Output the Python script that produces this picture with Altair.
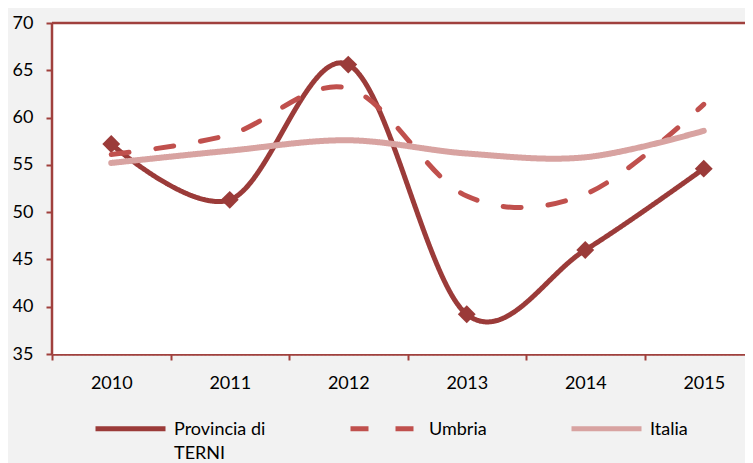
import altair as alt
import pandas as pd

years = ["2010", "2011", "2012", "2013", "2014", "2015"]
series_names = ["Provincia di TERNI", "Umbria", "Italia"]
terni = [57.2, 51.3, 65.6, 39.2, 46.0, 54.6]
umbria = [56.1, 58.2, 63.1, 51.7, 51.9, 61.4]
italia = [55.2, 56.5, 57.6, 56.2, 55.8, 58.6]
y_ticks = [35, 40, 45, 50, 55, 60, 65, 70]
colors = ["#9b3b39", "#c0504d", "#d8a3a1"]
dashes = [[1, 0], [18, 27], [1, 0]]
widths = [5, 5, 6]

rows = []
for name, vals in zip(series_names, [terni, umbria, italia]):
    for yr, v in zip(years, vals):
        rows.append({"year": yr, "series": name, "value": v})
df = pd.DataFrame(rows)

AX = "#a0403d"
FONT = "Lato"
DY = -8

x_enc = alt.X(
    "year:N",
    sort=years,
    bandPosition=0.5,
    scale=alt.Scale(type="band", domain=years, range=[0, 711], paddingInner=0, paddingOuter=0),
    axis=alt.Axis(
        title=None, labelAngle=0, tickBand="extent", grid=False,
        domainColor=AX, domainWidth=2.5, tickColor=AX, tickWidth=2, tickSize=6,
        labelPadding=14 - DY,
    ),
)
y_scale = alt.Scale(domain=[35, 70], nice=False, zero=False)
y_enc = alt.Y(
    "value:Q",
    scale=y_scale,
    axis=alt.Axis(
        values=y_ticks, title=None, format="d", grid=True, domain=False,
        gridDash=[2, 2], gridColor="#888888", gridWidth=1.3,
        tickColor=AX, tickWidth=2, tickSize=6,
        labelPadding=13, labelOffset=-DY,
    ),
)

legend = alt.Legend(
    title=None, orient="none", legendX=41, legendY=368, direction="horizontal",
    columns=3, columnPadding=74, symbolType="stroke", symbolSize=4900,
    symbolStrokeWidth=5, labelOffset=6, labelFont=FONT, labelFontSize=18,
    labelColor="#000000", padding=0, labelBaseline="top",
    labelExpr="datum.label == 'Provincia di TERNI' ? ['Provincia di', 'TERNI'] : [datum.label, '']",
)
color_enc = alt.Color("series:N", scale=alt.Scale(domain=series_names, range=colors), legend=legend)
dash_enc = alt.StrokeDash("series:N", scale=alt.Scale(domain=series_names, range=dashes), legend=legend)

frame_df = pd.DataFrame({"lo": [35], "hi": [70]})
plot_bg = alt.Chart(frame_df).mark_rect(color="white").encode(
    x=alt.value(0), x2=alt.value(740),
    y=alt.Y("hi:Q", scale=y_scale), y2="lo:Q",
)
top_border = alt.Chart(frame_df).mark_rule(color=AX, strokeWidth=2.5).encode(
    x=alt.value(0), x2=alt.value(740), y=alt.Y("hi:Q", scale=y_scale)
)
left_border = alt.Chart(frame_df).mark_rule(color=AX, strokeWidth=2.5).encode(
    x=alt.value(0), y=alt.Y("hi:Q", scale=y_scale), y2="lo:Q"
)

base = alt.Chart(df)
layers = [plot_bg]
for i, name in enumerate(series_names):
    line = base.transform_filter(alt.datum.series == name).mark_line(
        interpolate="cardinal", strokeWidth=widths[i], strokeCap="round", strokeJoin="round"
    ).encode(x=x_enc, y=y_enc, color=color_enc, strokeDash=dash_enc)
    layers.append(line)
    if i == 0:
        pts = base.transform_filter(alt.datum.series == name).mark_point(
            shape="diamond", filled=True, size=320, opacity=1, color=colors[0]
        ).encode(x=x_enc, y=y_enc)
        layers.append(pts)
layers += [top_border, left_border]

chart = alt.layer(*layers).properties(
    width=693, height=331,
    autosize=alt.AutoSizeParams(type="none"),
    padding={"left": 44, "top": 15, "right": 0, "bottom": 109},
    background="#f2f2f2",
).configure(
    style={"guide-label": {"lineHeight": 24, "dy": DY}}
).configure_view(stroke=None).configure_axis(
    labelFont=FONT, labelFontSize=18, labelColor="#000000"
)

chart.save("out.html", embed_options={"renderer": "svg", "actions": False})
